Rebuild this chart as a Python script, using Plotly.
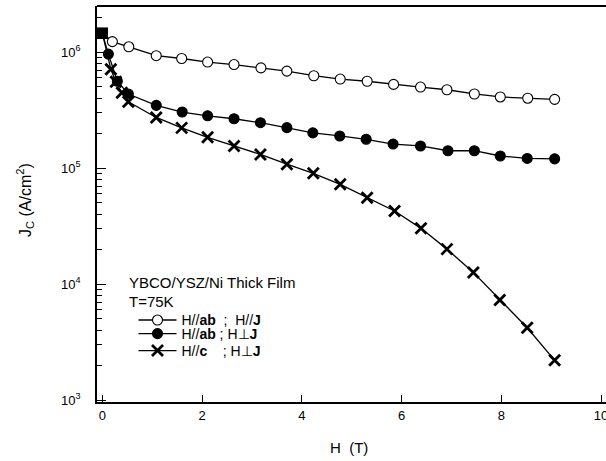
import plotly.graph_objects as go

# ---- data ----
H_open = [0, 0.2, 0.53, 1.08, 1.59, 2.11, 2.64, 3.18, 3.70, 4.24, 4.77, 5.31, 5.84, 6.38, 6.91, 7.46, 7.98, 8.53, 9.07]
J_open = [1.45e6, 1.23e6, 1.11e6, 9.3e5, 8.8e5, 8.2e5, 7.8e5, 7.3e5, 6.85e5, 6.25e5, 5.85e5, 5.6e5,
          5.26e5, 4.99e5, 4.73e5, 4.35e5, 4.1e5, 4.0e5, 3.91e5]

H_fill = [0, 0.12, 0.3, 0.52, 1.08, 1.60, 2.11, 2.64, 3.17, 3.70, 4.22, 4.76, 5.29, 5.83, 6.38, 6.93, 7.46, 7.98, 8.52, 9.07]
J_fill = [1.45e6, 9.6e5, 5.6e5, 4.35e5, 3.47e5, 3.04e5, 2.82e5, 2.66e5, 2.46e5, 2.23e5, 2.01e5, 1.89e5,
          1.77e5, 1.61e5, 1.55e5, 1.41e5, 1.41e5, 1.27e5, 1.21e5, 1.20e5]

H_x = [0, 0.17, 0.27, 0.39, 0.52, 1.08, 1.59, 2.11, 2.64, 3.17, 3.70, 4.23, 4.77, 5.31, 5.86, 6.39, 6.91,
       7.44, 7.97, 8.52, 9.07]
J_x = [1.45e6, 7.1e5, 5.55e5, 4.46e5, 3.73e5, 2.73e5, 2.22e5, 1.84e5, 1.55e5, 1.31e5, 1.08e5, 9.0e4,
       7.24e4, 5.55e4, 4.26e4, 3.02e4, 2.0e4, 1.26e4, 7.3e3, 4.2e3, 2.2e3]

x_ticks = [0, 2, 4, 6, 8, 10]
y_ticks = [1e3, 1e4, 1e5, 1e6]
y_ticktext = ["10<sup>3</sup>", "10<sup>4</sup>", "10<sup>5</sup>", "10<sup>6</sup>"]

names = ["H//<b>ab</b>\u00a0\u00a0;\u00a0 H//<b>J</b>",
         "H//<b>ab</b>\u00a0;\u00a0H\u22a5<b>J</b>",
         "H//<b>c</b>\u00a0\u00a0\u00a0\u00a0;\u00a0H\u22a5<b>J</b>"]
header = ["YBCO/YSZ/Ni Thick Film", "T=75K"]

FONT = "Liberation Sans, Arial, Helvetica, sans-serif"
BLACK = "black"

fig = go.Figure()

def series(H, J, sym, fill, size, lw):
    n = len(H)
    symbols = ["square"] + [sym] * (n - 1)
    colors = [BLACK] + [fill] * (n - 1)
    sizes = [10] + [size] * (n - 1)
    widths = [1.1] + [lw] * (n - 1)
    fig.add_trace(go.Scatter(
        x=H, y=J, mode="lines+markers", showlegend=False,
        line=dict(color=BLACK, width=1.3),
        marker=dict(symbol=symbols, color=colors, size=sizes, opacity=1,
                    line=dict(color=BLACK, width=widths)),
    ))

series(H_x, J_x, "x-thin", BLACK, 11, 2.8)
series(H_fill, J_fill, "circle", BLACK, 10, 1.1)
series(H_open, J_open, "circle", "white", 10, 1.1)

# legend entries, one small legend per row
leg_styles = [("circle", "white", 10, 1.1), ("circle", BLACK, 10, 1.1), ("x-thin", BLACK, 11, 2.8)]
leg_ids = ["legend", "legend2", "legend3"]
leg_y = [0.206, 0.1717, 0.1288]
for name, (sym, col, sz, lw), lid in zip(names, leg_styles, leg_ids):
    fig.add_trace(go.Scatter(
        x=[None], y=[None], mode="lines+markers", name=name, legend=lid,
        line=dict(color=BLACK, width=1.3),
        marker=dict(symbol=sym, color=col, size=sz, opacity=1,
                    line=dict(color=BLACK, width=lw)),
    ))

PW = 509.0  # plot width in px (l=97, r=0)

def px(p):
    return (p - 97) / PW

def leg(y):
    return dict(x=px(133.5), xanchor="left", y=y, yanchor="middle",
                bgcolor="rgba(0,0,0,0)", borderwidth=0,
                font=dict(family=FONT, size=14, color=BLACK),
                itemwidth=38)

fig.update_layout(
    template="none",
    width=606, height=461,
    margin=dict(l=97, r=0, t=6, b=59, pad=0),
    paper_bgcolor="white", plot_bgcolor="white",
    font=dict(family=FONT, size=13, color=BLACK),
    showlegend=True,
    legend=leg(leg_y[0]), legend2=leg(leg_y[1]), legend3=leg(leg_y[2]),
    xaxis=dict(range=[-0.108, 10.10], tickmode="array", tickvals=x_ticks,
               ticks="inside", ticklen=7, tickwidth=1.3, tickcolor=BLACK,
               showline=True, linewidth=1.8, linecolor=BLACK, mirror=False,
               showgrid=False, zeroline=False, ticklabeloverflow="allow",
               tickfont=dict(family=FONT, size=13, color=BLACK)),
    yaxis=dict(type="log", range=[2.983, 6.397], tickmode="array",
               tickvals=y_ticks, ticktext=y_ticktext,
               ticks="inside", ticklen=9, tickwidth=1.3, tickcolor=BLACK,
               minor=dict(ticks="inside", ticklen=5, tickwidth=1, tickcolor=BLACK,
                          dtick="D1", showgrid=False),
               showline=True, linewidth=1.8, linecolor=BLACK, mirror=False,
               showgrid=False, zeroline=False,
               tickfont=dict(family=FONT, size=13, color=BLACK),
               ticklabelstandoff=12),
    shapes=[dict(type="line", xref="paper", yref="paper", x0=0, x1=1, y0=1, y1=1,
                 line=dict(color=BLACK, width=1.8))],
    annotations=[
        dict(text="J<sub>C</sub> (A/cm<sup>2</sup>)", xref="paper", yref="paper",
             x=px(25), y=0.51, textangle=-90, showarrow=False,
             xanchor="center", yanchor="middle", font=dict(family=FONT, size=16)),
        dict(text="H\u00a0 (T)", xref="paper", yref="paper", x=px(349), y=-0.116,
             showarrow=False, xanchor="center", yanchor="middle",
             font=dict(family=FONT, size=15)),
        dict(text=header[0], xref="paper", yref="paper", x=px(127), y=0.303,
             showarrow=False, xanchor="left", yanchor="middle",
             font=dict(family=FONT, size=15)),
        dict(text=header[1], xref="paper", yref="paper", x=px(127), y=0.255,
             showarrow=False, xanchor="left", yanchor="middle",
             font=dict(family=FONT, size=15)),
    ],
)

fig.write_html("out.html", config={"displayModeBar": False},
               post_script="document.body.style.margin='0';")
